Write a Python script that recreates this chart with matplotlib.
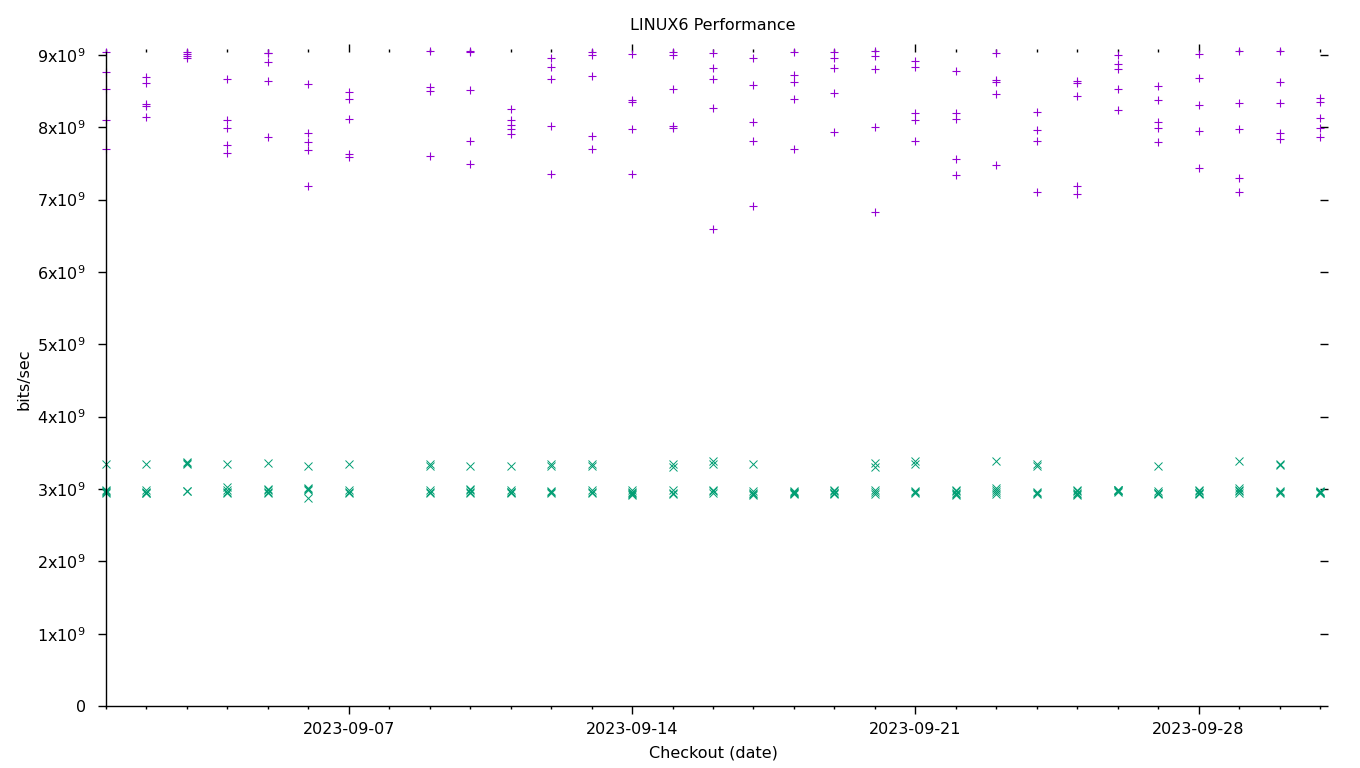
import datetime as dt
import matplotlib
matplotlib.use("Agg")
import matplotlib.pyplot as plt
import matplotlib.dates as mdates

# checkout days (2023-09-xx) that have runs
days = [1, 2, 3, 4, 5, 6, 7, 9, 10, 11, 12, 13, 14, 15, 16, 17, 18, 19, 20,
        21, 22, 23, 24, 25, 26, 27, 28, 29, 30, 31]

# upper series (+), values in 1e9 bits/sec, one list per day
plus_runs = [
    [9.04, 8.77, 8.53, 8.10, 7.70],
    [8.70, 8.61, 8.32, 8.30, 8.14],
    [9.04, 9.01, 8.99, 8.96],
    [8.67, 8.10, 7.99, 7.76, 7.65],
    [9.03, 9.02, 8.90, 8.64, 7.87],
    [8.60, 7.92, 7.80, 7.69, 7.19],
    [8.49, 8.39, 8.12, 7.63, 7.59],
    [9.06, 8.56, 8.50, 7.60],
    [9.06, 9.04, 8.52, 7.81, 7.49],
    [8.25, 8.10, 8.03, 7.98, 7.91],
    [8.96, 8.83, 8.67, 8.02, 7.36],
    [9.04, 9.00, 8.71, 7.88, 7.70],
    [9.01, 8.38, 8.35, 7.98, 7.36],
    [9.04, 9.00, 8.53, 8.02, 7.99],
    [9.03, 8.82, 8.67, 8.27, 6.59],
    [8.96, 8.59, 8.07, 7.81, 6.91],
    [9.04, 8.72, 8.63, 8.39, 7.70],
    [9.04, 8.96, 8.82, 8.47, 7.94],
    [9.06, 8.99, 8.81, 8.00, 6.83],
    [8.92, 8.83, 8.20, 8.10, 7.81],
    [8.78, 8.20, 8.12, 7.56, 7.34],
    [9.03, 8.65, 8.63, 8.46, 7.48],
    [8.21, 7.96, 7.81, 7.11],
    [8.64, 8.61, 8.43, 7.19, 7.08],
    [9.00, 8.88, 8.81, 8.53, 8.24],
    [8.57, 8.38, 8.07, 7.99, 7.80],
    [9.01, 8.68, 8.31, 7.95, 7.44],
    [9.06, 8.34, 7.98, 7.30, 7.11],
    [9.06, 8.63, 8.34, 7.92, 7.84],
    [8.41, 8.35, 8.13, 7.99, 7.87],
]

# lower series (x), values in 1e9 bits/sec, one list per day
cross_runs = [
    [3.35, 2.98, 2.97, 2.96, 2.95],
    [3.35, 2.98, 2.96, 2.95, 2.94],
    [3.37, 3.36, 3.34, 2.97, 2.97],
    [3.35, 3.03, 2.98, 2.96, 2.95],
    [3.36, 3.00, 2.98, 2.96, 2.95],
    [3.32, 3.02, 3.00, 2.98, 2.88],
    [3.35, 2.98, 2.96, 2.95],
    [3.35, 3.32, 2.98, 2.96, 2.95],
    [3.32, 3.00, 2.98, 2.96, 2.95],
    [3.32, 2.98, 2.96, 2.96, 2.95],
    [3.35, 3.32, 2.97, 2.96, 2.95],
    [3.35, 3.32, 2.98, 2.96, 2.95],
    [2.98, 2.96, 2.95, 2.93, 2.91],
    [3.35, 3.31, 2.98, 2.94, 2.93],
    [3.39, 3.35, 2.99, 2.97, 2.95],
    [3.35, 2.97, 2.94, 2.93, 2.91],
    [2.97, 2.96, 2.95, 2.94, 2.93],
    [2.99, 2.97, 2.95, 2.94, 2.93],
    [3.36, 3.31, 2.99, 2.96, 2.93],
    [3.38, 3.35, 2.97, 2.96, 2.95],
    [2.99, 2.97, 2.95, 2.93, 2.92],
    [3.39, 3.02, 2.99, 2.96, 2.93],
    [3.34, 3.32, 2.96, 2.94, 2.93],
    [2.99, 2.97, 2.95, 2.93, 2.92],
    [2.99, 2.98, 2.97, 2.96, 2.98],
    [3.32, 2.97, 2.95, 2.94, 2.93],
    [2.98, 2.97, 2.95, 2.94, 2.93],
    [3.39, 3.01, 2.99, 2.97, 2.95],
    [3.34, 3.33, 2.97, 2.96, 2.95],
    [2.97, 2.96, 2.95, 2.95, 2.96],
]

y_ticks = list(range(0, 10))
y_tick_labels = ["0"] + [f"{v}x10$^{{9}}$" for v in y_ticks[1:]]


def to_date(d):
    # day 31 means 2023-10-01
    return dt.datetime(2023, 9, 1) + dt.timedelta(days=d - 1)


def flatten(runs):
    xs, ys = [], []
    for d, vals in zip(days, runs):
        for v in vals:
            xs.append(to_date(d))
            ys.append(v * 1e9)
    return xs, ys


plt.rcParams["font.family"] = "DejaVu Sans"
plt.rcParams["mathtext.default"] = "regular"

fig = plt.figure(figsize=(13.6, 7.68), dpi=100)
ax = fig.add_axes([106 / 1360, 1 - 706 / 768, (1320 - 106) / 1360, (706 - 52) / 768])

px, py = flatten(plus_runs)
cx, cy = flatten(cross_runs)
ax.plot(px, py, linestyle="none", marker="+", color="#9400d3",
        markersize=6, markeredgewidth=0.8, clip_on=False)
ax.plot(cx, cy, linestyle="none", marker="x", color="#009e73",
        markersize=5.5, markeredgewidth=0.7, clip_on=False)

ax.set_xlim(dt.datetime(2023, 9, 1), dt.datetime(2023, 10, 1))
ax.set_ylim(0, 9.04e9)

ax.xaxis.set_major_locator(mdates.DayLocator(bymonthday=[7, 14, 21, 28]))
ax.xaxis.set_major_formatter(mdates.DateFormatter("%Y-%m-%d"))
ax.xaxis.set_minor_locator(mdates.DayLocator())
ax.set_yticks([v * 1e9 for v in y_ticks])
ax.set_yticklabels(y_tick_labels)

for s in ["top", "right"]:
    ax.spines[s].set_visible(False)
ax.spines["left"].set_linewidth(1.0)
ax.spines["bottom"].set_linewidth(1.0)

ax.tick_params(which="both", direction="out", top=True, right=True,
               labelsize=11.5, width=1.0, color="black")
ax.tick_params(which="major", length=5.5, pad=6)
ax.tick_params(which="minor", length=2.5)
ax.tick_params(axis="y", which="minor", left=False, right=False)
ax.tick_params(axis="y", pad=9)

ax.set_title("LINUX6 Performance", fontsize=11.5, pad=16)
ax.set_xlabel("Checkout (date)", fontsize=11.5, labelpad=6)
ax.set_ylabel("bits/sec", fontsize=11.5, labelpad=4)

fig.savefig("out.png", dpi=100)
